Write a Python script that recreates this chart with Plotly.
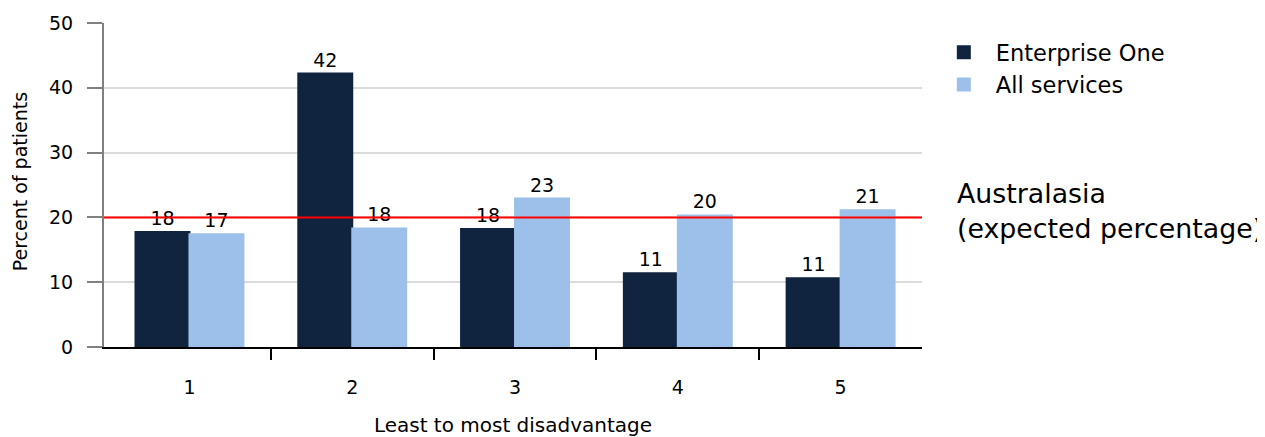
import plotly.graph_objects as go

categories = [1, 2, 3, 4, 5]
tick_labels = ["1", "2", "3", "4", "5"]
enterprise_one = [17.75, 42.2, 18.2, 11.4, 10.6]
all_services = [17.4, 18.3, 22.9, 20.3, 21.1]
expected_pct = 20
series_names = ["Enterprise One", "All services"]
annotation_text = "Australasia<br>(expected percentage)"
y_title = "Percent of patients"
x_title = "Least to most disadvantage"

FONT = "DejaVu Sans"
NAVY = "#10233f"
LIGHT = "#9cc0ea"

fig = go.Figure()
fig.add_trace(go.Bar(
    x=categories, y=enterprise_one, name=series_names[0],
    marker=dict(color=NAVY, line=dict(width=2, color=NAVY)),
    texttemplate="%{y:.0f}", textposition="outside", cliponaxis=False,
    textfont=dict(family=FONT, size=19, color="black"),
))
fig.add_trace(go.Bar(
    x=categories, y=all_services, name=series_names[1],
    marker=dict(color=LIGHT, line=dict(width=2, color=LIGHT)),
    texttemplate="%{y:.0f}", textposition="outside", cliponaxis=False,
    textfont=dict(family=FONT, size=19, color="black"),
))

fig.add_shape(type="line", xref="paper", x0=0, x1=1, yref="y",
              y0=expected_pct, y1=expected_pct,
              line=dict(color="#ff0000", width=2), layer="above")

fig.add_annotation(text=annotation_text, xref="paper", yref="paper",
                   x=1.040, y=0.42, xanchor="left", yanchor="middle",
                   align="left", showarrow=False,
                   font=dict(family=FONT, size=26.8, color="black"))

fig.add_annotation(text=y_title, xref="paper", yref="paper",
                   x=-0.1033, y=0.51, xanchor="center", yanchor="middle",
                   textangle=-90, showarrow=False,
                   font=dict(family=FONT, size=19, color="black"))

# page body has an 8px default margin, so the figure is sized to fit the window
fig.update_layout(
    width=1257, height=429,
    margin=dict(l=96, r=343, t=14.5, b=90, autoexpand=False),
    paper_bgcolor="white", plot_bgcolor="white",
    barmode="group", bargap=0.337, bargroupgap=0,
    font=dict(family=FONT, color="black"),
    showlegend=True,
    legend=dict(x=1.012, y=0.975, xanchor="left", yanchor="top",
                font=dict(family=FONT, size=22.5, color="black"),
                itemwidth=54, bgcolor="rgba(0,0,0,0)", tracegroupgap=0),
    xaxis=dict(
        range=[0.475, 5.5], tickmode="array", tickvals=categories,
        ticktext=tick_labels, ticks="", ticklabelstandoff=22,
        tickfont=dict(family=FONT, size=19, color="black"),
        showline=True, linecolor="black", linewidth=2,
        showgrid=False, zeroline=False, automargin=False,
        minor=dict(tickmode="array", tickvals=[1.5, 2.5, 3.5, 4.5],
                   ticks="outside", ticklen=11, tickwidth=2, tickcolor="black",
                   showgrid=False),
        title=dict(text=x_title, standoff=28,
                   font=dict(family=FONT, size=20, color="black")),
    ),
    yaxis=dict(
        range=[0, 50], dtick=10, ticks="outside", ticklen=15, tickwidth=2,
        tickcolor="#808080", ticklabelstandoff=10,
        tickfont=dict(family=FONT, size=19, color="black"),
        showline=True, linecolor="#808080", linewidth=2,
        showgrid=True, gridcolor="#dcdcdc", gridwidth=2, zeroline=False,
        automargin=False,
    ),
)

fig.write_html("out.html")
